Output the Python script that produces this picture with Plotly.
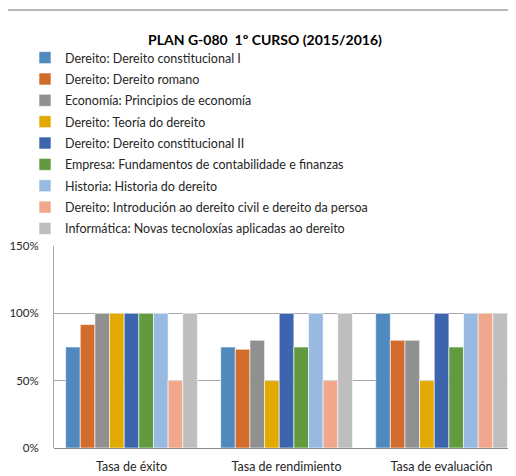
import plotly.graph_objects as go

categories = ["Tasa de éxito", "Tasa de rendimiento", "Tasa de evaluación"]
series_names = [
    "Dereito: Dereito constitucional I",
    "Dereito: Dereito romano",
    "Economía: Principios de economía",
    "Dereito: Teoría do dereito",
    "Dereito: Dereito constitucional II",
    "Empresa: Fundamentos de contabilidade e finanzas",
    "Historia: Historia do dereito",
    "Dereito: Introdución ao dereito civil e dereito da persoa",
    "Informática: Novas tecnoloxías aplicadas ao dereito",
]
dc1 = [0.75, 0.75, 1.00]
romano = [0.9167, 0.7333, 0.80]
economia = [1.00, 0.80, 0.80]
teoria = [1.00, 0.50, 0.50]
dc2 = [1.00, 1.00, 1.00]
empresa = [1.00, 0.75, 0.75]
historia = [1.00, 1.00, 1.00]
civil = [0.50, 0.50, 1.00]
informatica = [1.00, 1.00, 1.00]
series_values = [dc1, romano, economia, teoria, dc2, empresa, historia, civil, informatica]
colors = ["#4F89BE", "#D26C2C", "#909090", "#E2AA00", "#3C65AD",
          "#629A3F", "#98BAE0", "#F0A78B", "#BEBEBE"]
y_tickvals = [0, 0.5, 1.0, 1.5]
y_ticktext = ["0%", "50%", "100%", "150%"]

FONT = "Lato"
OFF = 8  # page body margin
W, H = 516, 476
L, R, T, B = 54 - OFF, 516 - OFF, 246 - OFF, 448 - OFF

fig = go.Figure()
for i, (name, vals) in enumerate(zip(series_names, series_values)):
    fig.add_trace(go.Bar(
        name=name, x=categories, y=vals,
        marker=dict(color=colors[i], line=dict(color="white", width=0.6)),
        legendgroup=f"g{i}",
    ))

def px_x(p):
    return (p - OFF - L) / (R - L)

def px_y(p):
    return (B - (p - OFF)) / (B - T)

fig.update_layout(
    template="none",
    width=W, height=H,
    margin=dict(l=L, r=W - R, t=T, b=H - B, pad=0, autoexpand=False),
    paper_bgcolor="white", plot_bgcolor="white",
    barmode="group", bargap=0.15, bargroupgap=0,
    font=dict(family=FONT, size=12.5, color="#404040"),
    title=dict(text="<b>PLAN G-080\u00a0\u00a01º CURSO (2015/2016)</b>",
               x=(265 - OFF) / W, xanchor="center", y=1 - (40 - OFF) / H, yanchor="middle",
               font=dict(family=FONT, size=14, color="#000000")),
    legend=dict(x=px_x(25), xanchor="left", y=px_y(43), yanchor="top",
                bgcolor="rgba(0,0,0,0)", tracegroupgap=2.1, borderwidth=0,
                font=dict(family=FONT, size=12.5, color="#262626"),
                itemclick=False),
    xaxis=dict(range=[-0.5, 2.48], showgrid=False, showline=False, ticks="",
               zeroline=False, automargin=False, ticklabelstandoff=9,
               tickfont=dict(size=12.5, color="#262626"), fixedrange=True),
    yaxis=dict(range=[0, 1.5], tickvals=y_tickvals, ticktext=y_ticktext,
               showgrid=True, gridcolor="#A6A6A6", gridwidth=1,
               zeroline=True, zerolinecolor="#8C8C8C", zerolinewidth=1,
               showline=True, linecolor="#A6A6A6", linewidth=1, mirror=True,
               ticks="", ticklabelstandoff=12, automargin=False,
               tickfont=dict(size=11.5, color="#262626"), fixedrange=True),
    showlegend=True,
)
# outer chart frame (left and top edges)
fig.add_shape(type="rect", xref="paper", yref="paper",
              x0=px_x(7), x1=px_x(540), y0=px_y(500), y1=px_y(10),
              line=dict(color="#A0A0A0", width=1.5), fillcolor="rgba(0,0,0,0)",
              layer="below")

fig.write_html("out.html")
